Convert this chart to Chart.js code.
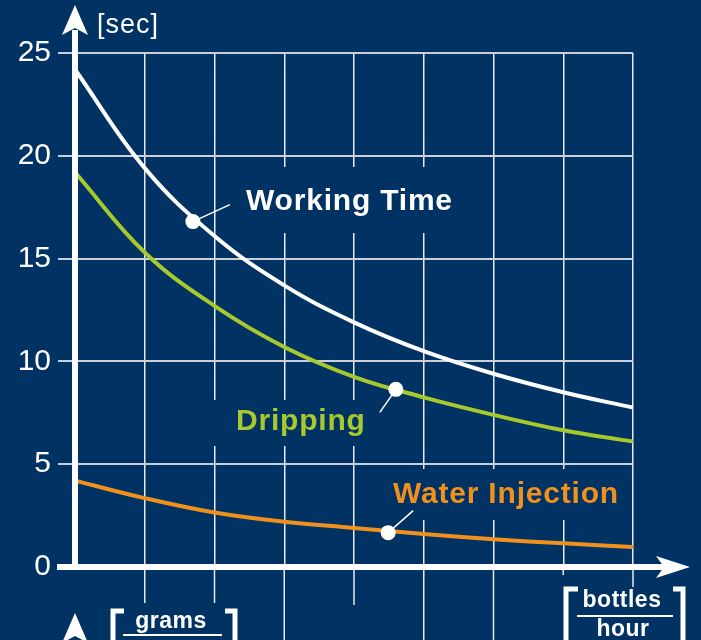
<!DOCTYPE html>
<html>
<head>
<meta charset="utf-8">
<script src="https://cdn.jsdelivr.net/npm/chart.js@4.4.0/dist/chart.umd.min.js"></script>
<style>
  body { margin: 0; background: #003263; }
  canvas { display: block; }
</style>
</head>
<body>
<canvas id="mainCanvas" width="701" height="640"></canvas>
<script>
// values
const xValues = [0, 1, 2, 3, 4, 5, 6, 7, 8];
const workingTime = [24.2, 19.4, 16.1, 13.7, 11.9, 10.5, 9.4, 8.5, 7.75];
const dripping = [19.2, 15.3, 12.7, 10.7, 9.25, 8.25, 7.4, 6.65, 6.1];
const waterInjection = [4.2, 3.35, 2.65, 2.2, 1.9, 1.6, 1.35, 1.15, 0.97];
const seriesNames = ['Working Time', 'Dripping', 'Water Injection'];
const markerX = [1.69, 4.6, 4.49];
const markerY = [16.8, 8.64, 1.67];
const yTicks = [0, 5, 10, 15, 20, 25];

const NAVY = '#003263';
const WHITE = '#ffffff';
const GREEN = '#a8c92d';
const ORANGE = '#f0911e';
const FONT = '"Liberation Sans", Arial, sans-serif';

let chart;

// label placement (pixels) - label text, knockout box, leader line offset from dot
const labelStyle = [
    {color: WHITE, x: 246, y: 210, box: [230, 167, 470, 233], lead: [37, -17]},
    {color: GREEN, x: 236, y: 430, box: [205, 400, 370, 446], lead: [-16, 23]},
    {color: ORANGE, x: 393, y: 503, box: [380, 469, 625, 520], lead: [25, -22]}
];

function toPoints(ys) {
    return ys.map((v, i) => ({x: xValues[i], y: v}));
}

const overlay = {
    id: 'overlay',
    beforeDatasetsDraw(c) {
        const ctx = c.ctx;
        const xs = c.scales.x;
        const bottom = c.chartArea.bottom;
        // grid lines running on below the axis
        const ext = [0, 603, 603, 640, 605, 640, 640, 575, 587];
        ctx.save();
        ctx.strokeStyle = 'rgba(255,255,255,0.9)';
        ctx.lineWidth = 1.5;
        for (let i = 1; i < xValues.length; i++) {
            const px = xs.getPixelForValue(xValues[i]);
            ctx.beginPath();
            ctx.moveTo(px, bottom);
            ctx.lineTo(px, ext[i]);
            ctx.stroke();
        }
        // knock the grid out behind the labels
        ctx.fillStyle = NAVY;
        for (const l of labelStyle) {
            ctx.fillRect(l.box[0], l.box[1], l.box[2] - l.box[0], l.box[3] - l.box[1]);
        }
        ctx.restore();
    },
    afterDatasetsDraw(c) {
        const ctx = c.ctx;
        const xs = c.scales.x, ys = c.scales.y;
        const left = c.chartArea.left, bottom = c.chartArea.bottom;
        ctx.save();
        // axes with arrows
        ctx.strokeStyle = WHITE;
        ctx.fillStyle = WHITE;
        ctx.lineWidth = 6;
        ctx.beginPath();
        ctx.moveTo(left, bottom + 3);
        ctx.lineTo(left, 30);
        ctx.moveTo(57, bottom);
        ctx.lineTo(664, bottom);
        ctx.stroke();
        ctx.beginPath();
        ctx.moveTo(left, 5); ctx.lineTo(62, 35); ctx.lineTo(left, 28); ctx.lineTo(88, 35);
        ctx.closePath(); ctx.fill();
        ctx.beginPath();
        ctx.moveTo(690, bottom); ctx.lineTo(656, bottom - 11); ctx.lineTo(664, bottom); ctx.lineTo(656, bottom + 11);
        ctx.closePath(); ctx.fill();
        // second axis arrow at the bottom edge
        ctx.beginPath();
        ctx.moveTo(left, 613); ctx.lineTo(62, 643); ctx.lineTo(left, 636); ctx.lineTo(88, 643);
        ctx.closePath(); ctx.fill();

        // leader lines and series labels
        ctx.lineWidth = 1.5;
        ctx.font = 'bold 30px ' + FONT;
        ctx.letterSpacing = '0.8px';
        ctx.textBaseline = 'alphabetic';
        labelStyle.forEach((l, i) => {
            const px = xs.getPixelForValue(markerX[i]);
            const py = ys.getPixelForValue(markerY[i]);
            ctx.strokeStyle = WHITE;
            ctx.beginPath();
            ctx.moveTo(px, py);
            ctx.lineTo(px + l.lead[0], py + l.lead[1]);
            ctx.stroke();
            ctx.fillStyle = l.color;
            ctx.fillText(seriesNames[i], l.x, l.y);
        });

        // unit texts
        ctx.fillStyle = WHITE;
        ctx.font = '27px ' + FONT;
        ctx.letterSpacing = '1px';
        ctx.fillText('[sec]', 97, 33);

        ctx.font = 'bold 23px ' + FONT;
        ctx.letterSpacing = '0.5px';
        ctx.textAlign = 'center';
        ctx.fillText('bottles', 622, 607);
        ctx.fillText('hour', 623, 636);
        ctx.fillText('grams', 171, 628);
        ctx.fillRect(577, 615, 96, 2);
        ctx.fillRect(123, 634, 99, 2);

        // brackets
        ctx.lineWidth = 5;
        ctx.beginPath();
        ctx.moveTo(578, 589); ctx.lineTo(566, 589); ctx.lineTo(566, 645);
        ctx.moveTo(673, 589); ctx.lineTo(683, 589); ctx.lineTo(683, 645);
        ctx.moveTo(124, 611); ctx.lineTo(113, 611); ctx.lineTo(113, 645);
        ctx.moveTo(225, 611); ctx.lineTo(235, 611); ctx.lineTo(235, 645);
        ctx.stroke();
        ctx.restore();
    }
};

function initChart() {
    chart = new Chart(
        document.getElementById('mainCanvas'),
        {
            type: 'line',
            data: {
                datasets: [
                    {
                        label: seriesNames[0],
                        data: toPoints(workingTime),
                        borderColor: WHITE,
                        borderWidth: 4,
                        pointRadius: 0,
                        tension: 0.4,
                        order: 1
                    },
                    {
                        label: seriesNames[1],
                        data: toPoints(dripping),
                        borderColor: GREEN,
                        borderWidth: 4,
                        pointRadius: 0,
                        tension: 0.4,
                        order: 2
                    },
                    {
                        label: seriesNames[2],
                        data: toPoints(waterInjection),
                        borderColor: ORANGE,
                        borderWidth: 4,
                        pointRadius: 0,
                        tension: 0.4,
                        order: 3
                    },
                    {
                        type: 'scatter',
                        data: markerX.map((x, i) => ({x: x, y: markerY[i]})),
                        backgroundColor: WHITE,
                        borderWidth: 0,
                        pointRadius: 7.5,
                        order: 0
                    }
                ]
            },
            options: {
                responsive: false,
                animation: false,
                layout: {padding: {top: 53, right: 68, left: 0, bottom: 0}},
                plugins: {legend: {display: false}, tooltip: {enabled: false}},
                scales: {
                    x: {
                        type: 'linear',
                        min: 0,
                        max: 8,
                        border: {display: false},
                        grid: {color: 'rgba(255,255,255,0.9)', lineWidth: 1.5, drawTicks: false},
                        ticks: {display: false, stepSize: 1},
                        afterFit: s => { s.height = 73; }
                    },
                    y: {
                        min: 0,
                        max: 25,
                        border: {display: false},
                        grid: {color: '#c8d0dc', lineWidth: 2, tickLength: 17},
                        ticks: {color: WHITE, font: {size: 30, family: FONT}, padding: 7},
                        afterBuildTicks: s => { s.ticks = yTicks.map(v => ({value: v})); },
                        afterFit: s => { s.width = 75; }
                    }
                }
            },
            plugins: [overlay]
        }
    );
}
initChart();
</script>
</body>
</html>
